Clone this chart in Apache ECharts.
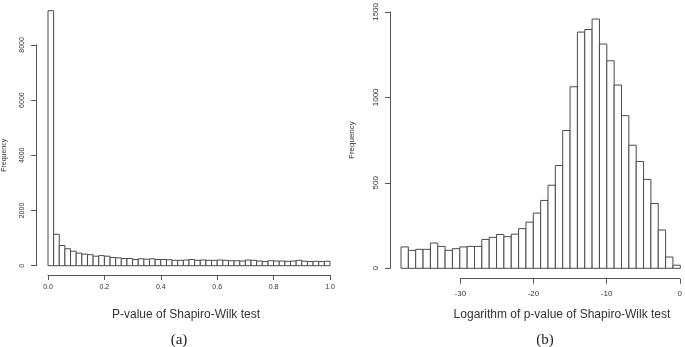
<!DOCTYPE html>
<html>
<head>
<meta charset="utf-8">
<script src="https://cdn.jsdelivr.net/npm/echarts@6/dist/echarts.min.js"></script>
<style>
  html, body { margin: 0; padding: 0; background: #fff; }
  #chart { width: 685px; height: 347px; }
</style>
</head>
<body>
<div id="chart"></div>
<script>
// (a) p-values, 50 bins of width 0.02 from 0 to 1
const pBinStart = 0;
const pBinWidth = 0.02;
const pCounts = [
  9240, 1140, 730, 615, 525, 455, 420, 400, 345, 365,
  345, 295, 285, 260, 260, 225, 250, 235, 250, 225,
  225, 215, 195, 195, 205, 225, 195, 205, 195, 195,
  205, 195, 180, 180, 170, 205, 195, 170, 150, 180,
  170, 170, 160, 170, 195, 165, 150, 160, 150, 160
];
const pTicks = [0, 0.2, 0.4, 0.6, 0.8, 1.0];

// (b) log p-values, 38 bins of width 1 from -38 to 0
const logBinStart = -38;
const logBinWidth = 1;
const logCounts = [
  125, 105, 111, 111, 148, 128, 105, 115, 125, 128,
  128, 169, 181, 198, 185, 200, 232, 270, 323, 397,
  486, 601, 806, 1062, 1382, 1397, 1458, 1312, 1214, 1072,
  893, 720, 625, 520, 379, 224, 66, 18
];
const logTicks = [-30, -20, -10, 0];

const AXIS_COLOR = '#555';
const TEXT_COLOR = '#333';
const FONT = 'Liberation Sans';

function toBins(start, width, counts) {
  return counts.map((c, i) => [start + i * width, start + (i + 1) * width, c]);
}

function renderBar(params, api) {
  const p0 = api.coord([api.value(0), 0]);
  const p1 = api.coord([api.value(1), api.value(2)]);
  return {
    type: 'rect',
    shape: { x: p0[0], y: p1[1], width: p1[0] - p0[0], height: p0[1] - p1[1] },
    style: { fill: '#fff', stroke: '#4a4a4a', lineWidth: 1 },
  };
}

function axisStyle(fontSize, margin) {
  return {
    axisLine: { show: true, onZero: false, lineStyle: { color: AXIS_COLOR, width: 1 } },
    axisTick: { show: true, length: 5, lineStyle: { color: AXIS_COLOR } },
    splitLine: { show: false },
    axisLabel: {
      color: TEXT_COLOR, fontSize: fontSize, fontFamily: FONT, margin: margin,
      formatter: (v) => String(v),
    },
  };
}

const chart = echarts.init(document.getElementById('chart'));

const option = {
  animation: false,
  backgroundColor: '#fff',
  title: [
    { text: 'P-value of Shapiro-Wilk test', left: 181, top: 304, textAlign: 'center',
      textStyle: { fontSize: 12, fontWeight: 'normal', color: TEXT_COLOR, fontFamily: FONT } },
    { text: 'Logarithm of p-value of Shapiro-Wilk test', left: 557, top: 304, textAlign: 'center',
      textStyle: { fontSize: 12, fontWeight: 'normal', color: TEXT_COLOR, fontFamily: FONT } },
    { text: '(a)', left: 174, top: 328, textAlign: 'center',
      textStyle: { fontSize: 15, fontWeight: 'normal', color: '#222', fontFamily: 'Liberation Serif' } },
    { text: '(b)', left: 540, top: 328, textAlign: 'center',
      textStyle: { fontSize: 15, fontWeight: 'normal', color: '#222', fontFamily: 'Liberation Serif' } },
  ],
  grid: [
    { left: 46.3, top: 44.9, width: 283.7, height: 220.8 },
    { left: 401, top: 10.7, width: 279.3, height: 257.6 },
    { left: 460.3, top: 10.7, width: 220, height: 257.6 },
  ],
  xAxis: [
    Object.assign(axisStyle(7, 9), {
      gridIndex: 0, type: 'value', min: pTicks[0], max: pTicks[pTicks.length - 1],
      interval: 0.2, offset: 9.3,
    }),
    { gridIndex: 1, type: 'value', min: logBinStart, max: 0, show: false },
    Object.assign(axisStyle(8, 11), {
      gridIndex: 2, type: 'value', min: logTicks[0], max: logTicks[logTicks.length - 1],
      interval: 10, offset: 10.4,
    }),
  ],
  yAxis: [
    Object.assign(axisStyle(7, 10), {
      gridIndex: 0, type: 'value', min: 0, max: 8000, interval: 2000, offset: 12,
      name: 'Frequency', nameLocation: 'middle', nameGap: 28,
      nameTextStyle: { fontSize: 7, color: TEXT_COLOR, fontFamily: FONT },
    }),
    Object.assign(axisStyle(8, 10), {
      gridIndex: 1, type: 'value', min: 0, max: 1500, interval: 500, offset: 11,
      name: 'Frequency', nameLocation: 'middle', nameGap: 34,
      nameTextStyle: { fontSize: 8, color: TEXT_COLOR, fontFamily: FONT },
    }),
    { gridIndex: 2, type: 'value', min: 0, max: 1, show: false },
  ],
  series: [
    {
      type: 'custom', xAxisIndex: 0, yAxisIndex: 0, clip: false,
      renderItem: renderBar, encode: { x: [0, 1], y: 2 },
      data: toBins(pBinStart, pBinWidth, pCounts),
    },
    {
      type: 'custom', xAxisIndex: 1, yAxisIndex: 1, clip: false,
      renderItem: renderBar, encode: { x: [0, 1], y: 2 },
      data: toBins(logBinStart, logBinWidth, logCounts),
    },
  ],
};

// y labels read upwards like the original plots
option.yAxis[0].axisLabel.rotate = 90;
option.yAxis[1].axisLabel.rotate = 90;
option.xAxis[0].axisLabel.formatter = (v) => v.toFixed(1);

chart.setOption(option);
</script>
</body>
</html>
